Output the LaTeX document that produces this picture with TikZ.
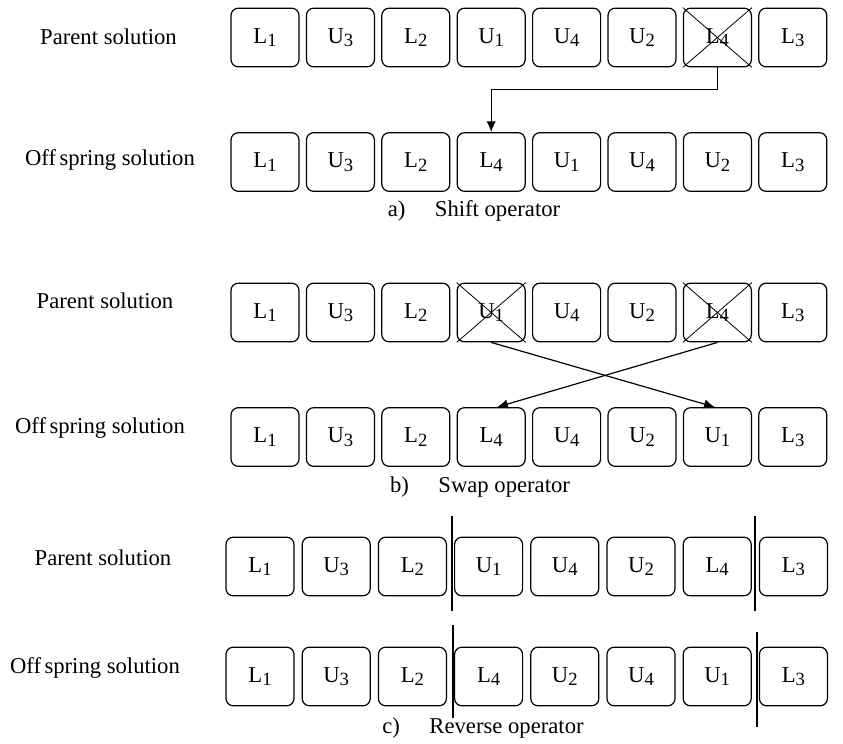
\documentclass[tikz,border=0pt]{standalone}
\usepackage{fontspec}
\setmainfont{Liberation Serif}
\usetikzlibrary{arrows.meta}
\newcommand\cellsub[1]{\raisebox{-0.35ex}{\fontsize{14}{14}\selectfont #1}}
\begin{document}
\begin{tikzpicture}[x=0.75pt,y=-0.75pt,
  cell/.style={draw, line width=0.9pt, rounded corners=5.5pt, minimum width=51pt,
    minimum height=44pt, inner sep=0pt, font=\fontsize{17}{17}\selectfont},
  lbl/.style={font=\fontsize{17}{20}\selectfont, inner sep=0pt},
  arr/.style={line width=0.9pt, -{Latex[length=8pt,width=7pt]}},
  crossline/.style={line width=0.6pt},
  sepline/.style={line width=0.9pt}]
\useasboundingbox (0,0) rectangle (843,743);
% ---------- a) shift ----------
\foreach \l/\s [count=\i from 1] in {L/1,U/3,L/2,U/1,U/4,U/2,L/4,L/3}
  \node[cell] (ap\i) at ({265+75.4*(\i-1)},37.5) {\l\cellsub{\s}};
\foreach \l/\s [count=\i from 1] in {L/1,U/3,L/2,L/4,U/1,U/4,U/2,L/3}
  \node[cell] (ao\i) at ({265+75.4*(\i-1)},162) {\l\cellsub{\s}};
\node[lbl] (ta1) at (108.5,37) {Parent solution};
\node[lbl] (ta2) at (110,160) {Off\hspace{0.15em}spring solution};
\node[lbl] (capa) at (474,211) {a)\hspace{1.3em}Shift operator};
\draw[crossline] (ap7.north west) -- (ap7.south east) (ap7.north east) -- (ap7.south west);
\draw[arr] (ap7.south) -- ++(0,22) -| (ao4.north);
% ---------- b) swap ----------
\foreach \l/\s [count=\i from 1] in {L/1,U/3,L/2,U/1,U/4,U/2,L/4,L/3}
  \node[cell] (bp\i) at ({265+75.4*(\i-1)},312.5) {\l\cellsub{\s}};
\foreach \l/\s [count=\i from 1] in {L/1,U/3,L/2,L/4,U/4,U/2,U/1,L/3}
  \node[cell] (bo\i) at ({265+75.4*(\i-1)},437) {\l\cellsub{\s}};
\node[lbl] (tb1) at (105,301) {Parent solution};
\node[lbl] (tb2) at (100,428) {Off\hspace{0.15em}spring solution};
\node[lbl] (capb) at (480,487) {b)\hspace{1.3em}Swap operator};
\draw[crossline] (bp4.north west) -- (bp4.south east) (bp4.north east) -- (bp4.south west);
\draw[crossline] (bp7.north west) -- (bp7.south east) (bp7.north east) -- (bp7.south west);
\draw[arr] (bp4.south) -- ([xshift=-2pt]bo7.north);
\draw[arr] (bp7.south) -- ([xshift=4.5pt]bo4.north);
% ---------- c) reverse ----------
\foreach \l/\s [count=\i from 1] in {L/1,U/3,L/2,U/1,U/4,U/2,L/4,L/3}
  \node[cell] (cp\i) at ({260+76.2*(\i-1)},566.5) {\l\cellsub{\s}};
\foreach \l/\s [count=\i from 1] in {L/1,U/3,L/2,L/4,U/2,U/4,U/1,L/3}
  \node[cell] (co\i) at ({260+76.2*(\i-1)},676.5) {\l\cellsub{\s}};
\node[lbl] (tc1) at (103,558) {Parent solution};
\node[lbl] (tc2) at (95,668) {Off\hspace{0.15em}spring solution};
\node[lbl] (capc) at (483,728) {c)\hspace{1.3em}Reverse operator};
\draw[sepline] (452,516) -- (452,611);
\draw[sepline] (755,516) -- (755,611);
\draw[sepline] (453,625) -- (453,718);
\draw[sepline] (757,632) -- (757,727);
\end{tikzpicture}
\end{document}
